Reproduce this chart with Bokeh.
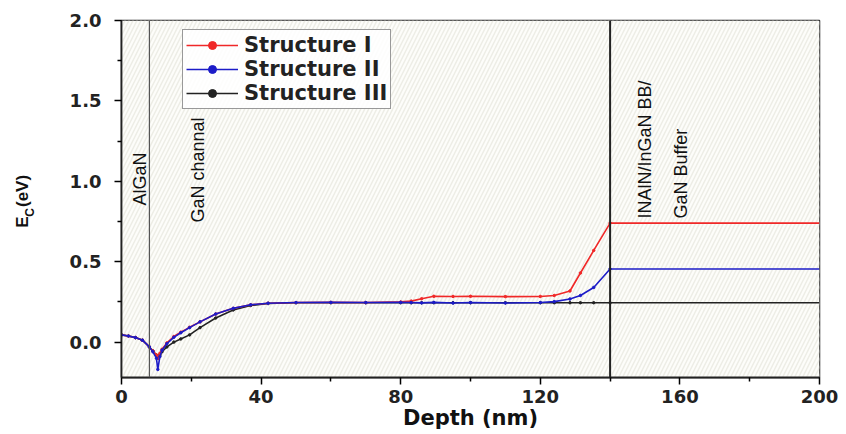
import math
from bokeh.plotting import figure
from bokeh.models import (Range1d, BoxAnnotation, Span, Label, Legend, LegendItem,
                          FixedTicker, PrintfTickFormatter, LinearAxis)
from bokeh.embed import file_html
from bokeh.resources import INLINE

# ---------------- data ----------------
depth = [0, 2, 4, 6, 8, 9, 10, 10.4, 11, 11.6, 13, 15, 17, 19.5, 22.5, 27, 32, 37, 42,
         50, 60, 70, 80, 83, 86, 89.5, 95, 100, 110, 120, 124, 128.5, 131.5, 135.3, 140,
         200]

ec_structure_1 = [0.045, 0.038, 0.028, 0.012, -0.03, -0.055, -0.08, -0.10, -0.07, -0.045,
                  -0.005, 0.035, 0.062, 0.092, 0.126, 0.175, 0.21, 0.232, 0.242,
                  0.246, 0.247, 0.246, 0.25, 0.255, 0.27, 0.285, 0.284, 0.285, 0.283, 0.284,
                  0.29, 0.318, 0.43, 0.57, 0.74,
                  0.74]

ec_structure_2 = [0.045, 0.038, 0.028, 0.012, -0.03, -0.06, -0.10, -0.17, -0.09, -0.05,
                  -0.01, 0.03, 0.058, 0.09, 0.126, 0.175, 0.21, 0.232, 0.242,
                  0.246, 0.247, 0.246, 0.247, 0.246, 0.244, 0.247, 0.243, 0.246, 0.243, 0.246,
                  0.252, 0.268, 0.29, 0.34, 0.455,
                  0.455]

ec_structure_3 = [0.045, 0.038, 0.028, 0.012, -0.03, -0.055, -0.08, -0.10, -0.08, -0.06,
                  -0.03, 0.0, 0.02, 0.045, 0.09, 0.15, 0.2, 0.228, 0.24,
                  0.245, 0.245, 0.245, 0.245, 0.245, 0.245, 0.245, 0.245, 0.245, 0.245, 0.245,
                  0.245, 0.245, 0.245, 0.245, 0.245,
                  0.245]

series_names = ["Structure I", "Structure II", "Structure III"]
layer_boundaries = [8, 140]
layer_names = ["AlGaN", "GaN channal", "INAlN/InGaN BB/", "GaN Buffer"]
x_title = "Depth (nm)"
NB = "\u00a0"
y_title_main = "E" + NB * 2 + "(eV)" + NB       # E _ (eV), gap holds the subscript
y_title_sub = "C" + NB * 8                       # subscript C, padded to sit in the gap

x_ticks = [0, 40, 80, 120, 160, 200]
x_minor = [20, 60, 100, 140, 180]
y_ticks = [0.0, 0.5, 1.0, 1.5, 2.0]
y_minor = [0.25, 0.75, 1.25, 1.75]

# ---------------- figure ----------------
p = figure(width=846, height=434, output_backend="svg", toolbar_location=None,
           x_range=Range1d(0, 200), y_range=Range1d(-0.22, 2.0),
           min_border_left=121, min_border_right=27, min_border_top=20,
           min_border_bottom=57)
p.background_fill_color = "white"
p.border_fill_color = "white"
p.outline_line_color = "#222222"
p.outline_line_width = 1.5
p.xgrid.visible = False
p.ygrid.visible = False

bg = BoxAnnotation(fill_color="#fdfdfa", fill_alpha=1.0, line_color=None,
                   hatch_pattern="/", hatch_color="#ededE6", hatch_scale=8,
                   hatch_weight=1.5, level="underlay")
p.add_layout(bg)

for ax in (p.xaxis[0], p.yaxis[0]):
    ax.axis_line_width = 1.8
    ax.axis_line_color = "#222222"
    ax.major_tick_line_width = 1.5
    ax.minor_tick_line_width = 1.5
    ax.major_tick_in = 0
    ax.major_tick_out = 7
    ax.minor_tick_in = 0
    ax.minor_tick_out = 4
    ax.major_label_text_font = "DejaVu Sans"
    ax.major_label_text_font_style = "bold"
    ax.major_label_text_font_size = "18px"
    ax.major_label_text_color = "#222222"

p.xaxis.ticker = FixedTicker(ticks=x_ticks, minor_ticks=x_minor)
p.yaxis.ticker = FixedTicker(ticks=y_ticks, minor_ticks=y_minor)
p.yaxis.formatter = PrintfTickFormatter(format="%.1f")
p.xaxis.major_label_standoff = 5
p.yaxis.major_label_standoff = 13

p.xaxis.axis_label = x_title
p.xaxis.axis_label_standoff = 0
p.xaxis.axis_label_text_font = "DejaVu Sans"
p.xaxis.axis_label_text_font_style = "bold"
p.xaxis.axis_label_text_font_size = "21px"
p.xaxis.axis_label_text_color = "#111111"

# subscript "C" as the label of the tick axis
p.yaxis.axis_label = y_title_sub
p.yaxis.axis_label_standoff = 30
p.yaxis.axis_label_text_font = "Liberation Sans"
p.yaxis.axis_label_text_font_style = "bold"
p.yaxis.axis_label_text_font_size = "12px"
p.yaxis.axis_label_text_color = "#111111"

# main "E (eV)" on an outer, tick-less axis
outer = LinearAxis(ticker=FixedTicker(ticks=[]), axis_line_color=None,
                   major_tick_line_color=None, minor_tick_line_color=None,
                   axis_label=y_title_main, axis_label_standoff=-12,
                   axis_label_text_font="Liberation Sans",
                   axis_label_text_font_style="bold",
                   axis_label_text_font_size="17px",
                   axis_label_text_color="#111111")
p.add_layout(outer, "left")

# layer boundaries
p.add_layout(Span(location=layer_boundaries[0], dimension="height",
                  line_color="#555555", line_width=1.2))
p.add_layout(Span(location=layer_boundaries[1], dimension="height",
                  line_color="#222222", line_width=2))

# curves
colors = ["#f02828", "#1c1cc8", "#222222"]
series = [ec_structure_1, ec_structure_2, ec_structure_3]
draw_order = [2, 0, 1]
rends = {}
for i in draw_order:
    l = p.line(depth, series[i], line_color=colors[i], line_width=1.6)
    s = p.scatter(depth[:-1], series[i][:-1], size=2.5, color=colors[i])
    rends[i] = [l, s]
items = [LegendItem(label=series_names[i], renderers=rends[i]) for i in range(3)]

legend = Legend(items=items, location=(61, 268))
legend.label_text_font = "DejaVu Sans"
legend.label_text_font_style = "bold"
legend.label_text_font_size = "21px"
legend.label_text_color = "#222222"
legend.glyph_width = 52
legend.glyph_height = 20
legend.label_standoff = 6
legend.padding = 3
legend.spacing = 0
legend.margin = 0
legend.border_line_color = "#333333"
legend.border_line_width = 1
legend.background_fill_color = "white"
legend.background_fill_alpha = 0.85
p.add_layout(legend)

# layer texts (rotated)
def vlabel(x, y, text, size):
    p.add_layout(Label(x=x, y=y, x_units="screen", y_units="screen", text=text,
                       angle=math.pi / 2, text_align="left", text_baseline="alphabetic",
                       text_font="Liberation Sans", text_font_size=size,
                       text_color="#111111"))

vlabel(18, 172, layer_names[0], "18px")
vlabel(76, 155, layer_names[1], "18px")
vlabel(523, 159, layer_names[2], "18px")
vlabel(559, 159, layer_names[3], "18px")

open("out.html", "w").write(file_html(p, INLINE))
